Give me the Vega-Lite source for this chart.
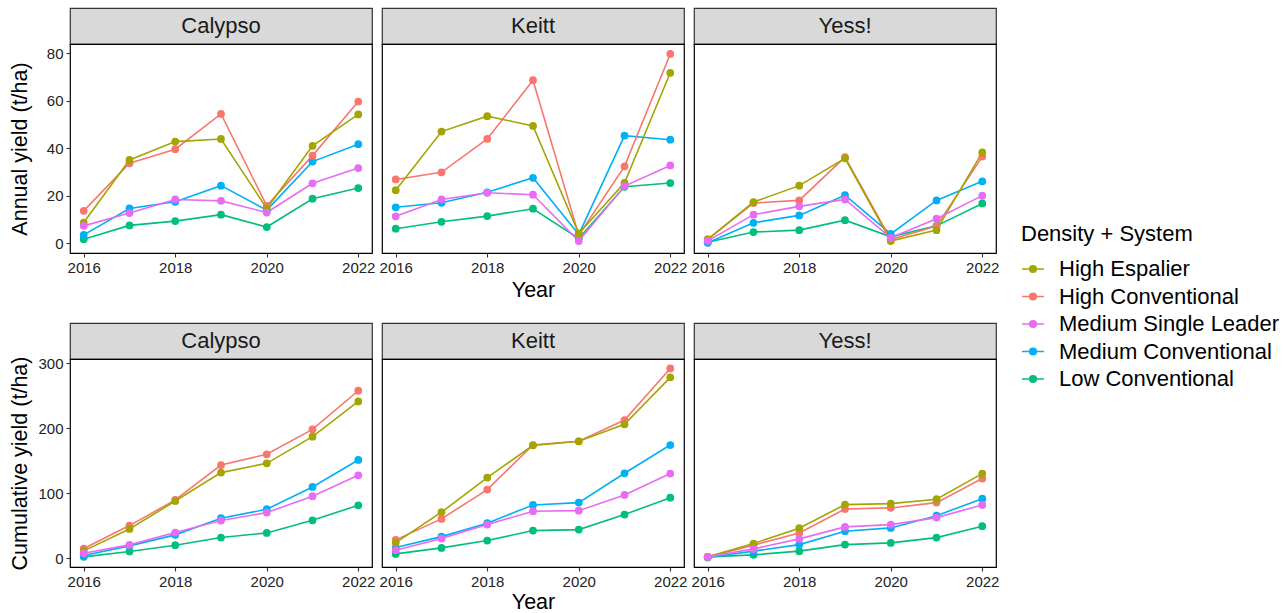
{
  "$schema": "https://vega.github.io/schema/vega-lite/v6.json",
  "padding": {"left": 8, "top": 7, "right": 5, "bottom": 0},
  "config": {
    "font": "Liberation Sans",
    "view": {"stroke": "#000000", "strokeWidth": 1.2, "fill": "#ffffff"},
    "axis": {"grid": false, "domain": false, "tickSize": 4, "tickColor": "#333333", "tickWidth": 1.1, "labelFontSize": 15, "labelColor": "#222222", "labelPadding": 3, "labelFlush": false, "titleFontSize": 21.5, "titleFontWeight": "normal", "titleColor": "#000000"},
    "legend": {"titleFontSize": 22, "titleFontWeight": "normal", "titleColor": "#000000", "labelFontSize": 22, "labelColor": "#000000", "labelLimit": 400, "symbolType": "M-1,0H1M-0.3,0A0.3,0.3,0,1,0,0.3,0A0.3,0.3,0,1,0,-0.3,0Z", "symbolSize": 484, "symbolStrokeWidth": 1.6, "rowPadding": 4.5, "labelOffset": 14, "titlePadding": 11}
  },
  "datasets": {
    "yield": [
      {"cultivar":"Calypso","system":"Low Conventional","year":2016,"annual":1.8,"cumulative":2.0},
      {"cultivar":"Calypso","system":"Low Conventional","year":2017,"annual":7.6,"cumulative":10.3},
      {"cultivar":"Calypso","system":"Low Conventional","year":2018,"annual":9.4,"cumulative":20.0},
      {"cultivar":"Calypso","system":"Low Conventional","year":2019,"annual":12.1,"cumulative":31.8},
      {"cultivar":"Calypso","system":"Low Conventional","year":2020,"annual":6.9,"cumulative":38.9},
      {"cultivar":"Calypso","system":"Low Conventional","year":2021,"annual":18.8,"cumulative":58.4},
      {"cultivar":"Calypso","system":"Low Conventional","year":2022,"annual":23.3,"cumulative":81.5},
      {"cultivar":"Calypso","system":"Medium Conventional","year":2016,"annual":3.6,"cumulative":4.0},
      {"cultivar":"Calypso","system":"Medium Conventional","year":2017,"annual":14.7,"cumulative":18.9},
      {"cultivar":"Calypso","system":"Medium Conventional","year":2018,"annual":17.5,"cumulative":35.9},
      {"cultivar":"Calypso","system":"Medium Conventional","year":2019,"annual":24.3,"cumulative":61.5},
      {"cultivar":"Calypso","system":"Medium Conventional","year":2020,"annual":14.0,"cumulative":75.4},
      {"cultivar":"Calypso","system":"Medium Conventional","year":2021,"annual":34.4,"cumulative":109.7},
      {"cultivar":"Calypso","system":"Medium Conventional","year":2022,"annual":41.7,"cumulative":151.3},
      {"cultivar":"Calypso","system":"High Conventional","year":2016,"annual":13.7,"cumulative":14.9},
      {"cultivar":"Calypso","system":"High Conventional","year":2017,"annual":33.7,"cumulative":50.2},
      {"cultivar":"Calypso","system":"High Conventional","year":2018,"annual":39.6,"cumulative":89.7},
      {"cultivar":"Calypso","system":"High Conventional","year":2019,"annual":54.4,"cumulative":143.5},
      {"cultivar":"Calypso","system":"High Conventional","year":2020,"annual":15.8,"cumulative":160.0},
      {"cultivar":"Calypso","system":"High Conventional","year":2021,"annual":36.9,"cumulative":198.4},
      {"cultivar":"Calypso","system":"High Conventional","year":2022,"annual":59.6,"cumulative":257.9},
      {"cultivar":"Calypso","system":"High Espalier","year":2016,"annual":8.8,"cumulative":11.2},
      {"cultivar":"Calypso","system":"High Espalier","year":2017,"annual":35.1,"cumulative":45.0},
      {"cultivar":"Calypso","system":"High Espalier","year":2018,"annual":42.8,"cumulative":88.0},
      {"cultivar":"Calypso","system":"High Espalier","year":2019,"annual":43.9,"cumulative":131.8},
      {"cultivar":"Calypso","system":"High Espalier","year":2020,"annual":14.7,"cumulative":146.1},
      {"cultivar":"Calypso","system":"High Espalier","year":2021,"annual":41.0,"cumulative":187.1},
      {"cultivar":"Calypso","system":"High Espalier","year":2022,"annual":54.2,"cumulative":241.5},
      {"cultivar":"Calypso","system":"Medium Single Leader","year":2016,"annual":7.4,"cumulative":7.7},
      {"cultivar":"Calypso","system":"Medium Single Leader","year":2017,"annual":12.8,"cumulative":20.5},
      {"cultivar":"Calypso","system":"Medium Single Leader","year":2018,"annual":18.5,"cumulative":39.4},
      {"cultivar":"Calypso","system":"Medium Single Leader","year":2019,"annual":17.9,"cumulative":57.9},
      {"cultivar":"Calypso","system":"Medium Single Leader","year":2020,"annual":13.0,"cumulative":70.2},
      {"cultivar":"Calypso","system":"Medium Single Leader","year":2021,"annual":25.3,"cumulative":95.4},
      {"cultivar":"Calypso","system":"Medium Single Leader","year":2022,"annual":31.7,"cumulative":127.7},
      {"cultivar":"Keitt","system":"Low Conventional","year":2016,"annual":6.2,"cumulative":6.6},
      {"cultivar":"Keitt","system":"Low Conventional","year":2017,"annual":9.1,"cumulative":15.8},
      {"cultivar":"Keitt","system":"Low Conventional","year":2018,"annual":11.5,"cumulative":27.1},
      {"cultivar":"Keitt","system":"Low Conventional","year":2019,"annual":14.6,"cumulative":42.5},
      {"cultivar":"Keitt","system":"Low Conventional","year":2020,"annual":2.1,"cumulative":44.0},
      {"cultivar":"Keitt","system":"Low Conventional","year":2021,"annual":23.8,"cumulative":67.1},
      {"cultivar":"Keitt","system":"Low Conventional","year":2022,"annual":25.4,"cumulative":93.2},
      {"cultivar":"Keitt","system":"Medium Conventional","year":2016,"annual":15.2,"cumulative":16.3},
      {"cultivar":"Keitt","system":"Medium Conventional","year":2017,"annual":17.1,"cumulative":33.2},
      {"cultivar":"Keitt","system":"Medium Conventional","year":2018,"annual":21.5,"cumulative":53.8},
      {"cultivar":"Keitt","system":"Medium Conventional","year":2019,"annual":27.6,"cumulative":82.0},
      {"cultivar":"Keitt","system":"Medium Conventional","year":2020,"annual":3.8,"cumulative":85.6},
      {"cultivar":"Keitt","system":"Medium Conventional","year":2021,"annual":45.3,"cumulative":130.8},
      {"cultivar":"Keitt","system":"Medium Conventional","year":2022,"annual":43.6,"cumulative":174.3},
      {"cultivar":"Keitt","system":"High Conventional","year":2016,"annual":26.9,"cumulative":28.2},
      {"cultivar":"Keitt","system":"High Conventional","year":2017,"annual":29.9,"cumulative":60.5},
      {"cultivar":"Keitt","system":"High Conventional","year":2018,"annual":43.9,"cumulative":105.6},
      {"cultivar":"Keitt","system":"High Conventional","year":2019,"annual":68.6,"cumulative":174.3},
      {"cultivar":"Keitt","system":"High Conventional","year":2020,"annual":3.5,"cumulative":180.0},
      {"cultivar":"Keitt","system":"High Conventional","year":2021,"annual":32.4,"cumulative":212.8},
      {"cultivar":"Keitt","system":"High Conventional","year":2022,"annual":79.6,"cumulative":292.3},
      {"cultivar":"Keitt","system":"High Espalier","year":2016,"annual":22.4,"cumulative":24.0},
      {"cultivar":"Keitt","system":"High Espalier","year":2017,"annual":47.0,"cumulative":70.8},
      {"cultivar":"Keitt","system":"High Espalier","year":2018,"annual":53.5,"cumulative":124.1},
      {"cultivar":"Keitt","system":"High Espalier","year":2019,"annual":49.4,"cumulative":173.8},
      {"cultivar":"Keitt","system":"High Espalier","year":2020,"annual":4.2,"cumulative":180.0},
      {"cultivar":"Keitt","system":"High Espalier","year":2021,"annual":25.5,"cumulative":206.2},
      {"cultivar":"Keitt","system":"High Espalier","year":2022,"annual":71.7,"cumulative":278.5},
      {"cultivar":"Keitt","system":"Medium Single Leader","year":2016,"annual":11.4,"cumulative":12.3},
      {"cultivar":"Keitt","system":"Medium Single Leader","year":2017,"annual":18.5,"cumulative":30.2},
      {"cultivar":"Keitt","system":"Medium Single Leader","year":2018,"annual":21.3,"cumulative":51.7},
      {"cultivar":"Keitt","system":"Medium Single Leader","year":2019,"annual":20.5,"cumulative":72.3},
      {"cultivar":"Keitt","system":"Medium Single Leader","year":2020,"annual":1.0,"cumulative":73.2},
      {"cultivar":"Keitt","system":"Medium Single Leader","year":2021,"annual":24.1,"cumulative":97.4},
      {"cultivar":"Keitt","system":"Medium Single Leader","year":2022,"annual":32.8,"cumulative":130.3},
      {"cultivar":"Yess!","system":"Low Conventional","year":2016,"annual":0.5,"cumulative":2.0},
      {"cultivar":"Yess!","system":"Low Conventional","year":2017,"annual":4.8,"cumulative":5.1},
      {"cultivar":"Yess!","system":"Low Conventional","year":2018,"annual":5.6,"cumulative":10.8},
      {"cultivar":"Yess!","system":"Low Conventional","year":2019,"annual":9.8,"cumulative":20.9},
      {"cultivar":"Yess!","system":"Low Conventional","year":2020,"annual":2.8,"cumulative":23.5},
      {"cultivar":"Yess!","system":"Low Conventional","year":2021,"annual":7.4,"cumulative":31.7},
      {"cultivar":"Yess!","system":"Low Conventional","year":2022,"annual":16.8,"cumulative":49.2},
      {"cultivar":"Yess!","system":"Medium Conventional","year":2016,"annual":0.3,"cumulative":1.0},
      {"cultivar":"Yess!","system":"Medium Conventional","year":2017,"annual":8.7,"cumulative":10.8},
      {"cultivar":"Yess!","system":"Medium Conventional","year":2018,"annual":11.8,"cumulative":20.9},
      {"cultivar":"Yess!","system":"Medium Conventional","year":2019,"annual":20.3,"cumulative":41.5},
      {"cultivar":"Yess!","system":"Medium Conventional","year":2020,"annual":4.0,"cumulative":46.6},
      {"cultivar":"Yess!","system":"Medium Conventional","year":2021,"annual":18.1,"cumulative":65.5},
      {"cultivar":"Yess!","system":"Medium Conventional","year":2022,"annual":26.1,"cumulative":91.7},
      {"cultivar":"Yess!","system":"High Conventional","year":2016,"annual":1.7,"cumulative":2.0},
      {"cultivar":"Yess!","system":"High Conventional","year":2017,"annual":17.0,"cumulative":20.0},
      {"cultivar":"Yess!","system":"High Conventional","year":2018,"annual":18.1,"cumulative":38.9},
      {"cultivar":"Yess!","system":"High Conventional","year":2019,"annual":36.3,"cumulative":75.8},
      {"cultivar":"Yess!","system":"High Conventional","year":2020,"annual":1.7,"cumulative":77.4},
      {"cultivar":"Yess!","system":"High Conventional","year":2021,"annual":7.3,"cumulative":85.6},
      {"cultivar":"Yess!","system":"High Conventional","year":2022,"annual":36.5,"cumulative":122.6},
      {"cultivar":"Yess!","system":"High Espalier","year":2016,"annual":1.7,"cumulative":2.0},
      {"cultivar":"Yess!","system":"High Espalier","year":2017,"annual":17.4,"cumulative":22.5},
      {"cultivar":"Yess!","system":"High Espalier","year":2018,"annual":24.3,"cumulative":46.2},
      {"cultivar":"Yess!","system":"High Espalier","year":2019,"annual":35.8,"cumulative":82.5},
      {"cultivar":"Yess!","system":"High Espalier","year":2020,"annual":1.0,"cumulative":84.0},
      {"cultivar":"Yess!","system":"High Espalier","year":2021,"annual":5.6,"cumulative":90.8},
      {"cultivar":"Yess!","system":"High Espalier","year":2022,"annual":38.3,"cumulative":130.3},
      {"cultivar":"Yess!","system":"Medium Single Leader","year":2016,"annual":1.1,"cumulative":2.0},
      {"cultivar":"Yess!","system":"Medium Single Leader","year":2017,"annual":12.1,"cumulative":14.3},
      {"cultivar":"Yess!","system":"Medium Single Leader","year":2018,"annual":15.6,"cumulative":29.7},
      {"cultivar":"Yess!","system":"Medium Single Leader","year":2019,"annual":18.5,"cumulative":48.2},
      {"cultivar":"Yess!","system":"Medium Single Leader","year":2020,"annual":2.4,"cumulative":51.7},
      {"cultivar":"Yess!","system":"Medium Single Leader","year":2021,"annual":10.4,"cumulative":62.5},
      {"cultivar":"Yess!","system":"Medium Single Leader","year":2022,"annual":20.1,"cumulative":82.0}
    ]
  },
  "spacing": 20,
  "vconcat": [
    {
      "spacing": 2,
      "hconcat": [
        {
          "spacing": 0, "bounds": "flush",
          "vconcat": [
            {"width": 302, "height": 36, "view": {"fill": "#d9d9d9", "stroke": "#333333", "strokeWidth": 1.2}, "data": {"name": "yield"}, "transform": [{"filter": "datum.cultivar === 'Calypso'"}, {"aggregate": [{"op": "count", "as": "n"}], "groupby": ["cultivar"]}], "mark": {"type": "text", "fontSize": 22, "color": "#1a1a1a"}, "encoding": {"text": {"field": "cultivar"}}},
            {"width": 302, "height": 209, "data": {"name": "yield"}, "transform": [{"filter": "datum.cultivar === 'Calypso'"}],
             "encoding": {
               "x": {"field": "year", "type": "quantitative", "scale": {"domain": [2015.7, 2022.3], "nice": false, "zero": false}, "axis": {"values": [2016, 2018, 2020, 2022], "format": "d", "title": null}},
               "y": {"field": "annual", "type": "quantitative", "scale": {"domain": [-4, 83.8], "nice": false, "zero": false}, "axis": {"values": [0, 20, 40, 60, 80], "title": "Annual yield (t/ha)", "minExtent": 36, "maxExtent": 36, "titlePadding": 3}},
               "color": {"field": "system", "type": "nominal", "title": "Density + System", "scale": {"domain": ["High Espalier", "High Conventional", "Medium Single Leader", "Medium Conventional", "Low Conventional"], "range": ["#A3A500", "#F8766D", "#E76BF3", "#00B0F6", "#00BF7D"]}, "legend": {"orient": "none", "legendX": 951, "legendY": 216, "encode": {"symbols": {"update": {"fill": {"scale": "color", "field": "value"}, "stroke": {"scale": "color", "field": "value"}, "strokeWidth": {"value": 1.6}}}}}}
             },
             "layer": [{"mark": {"type": "line", "strokeWidth": 1.6}}, {"mark": {"type": "point", "filled": true, "size": 60, "opacity": 1}}]}
          ]
        },
        {
          "spacing": 0, "bounds": "flush",
          "vconcat": [
            {"width": 302, "height": 36, "view": {"fill": "#d9d9d9", "stroke": "#333333", "strokeWidth": 1.2}, "data": {"name": "yield"}, "transform": [{"filter": "datum.cultivar === 'Keitt'"}, {"aggregate": [{"op": "count", "as": "n"}], "groupby": ["cultivar"]}], "mark": {"type": "text", "fontSize": 22, "color": "#1a1a1a"}, "encoding": {"text": {"field": "cultivar"}}},
            {"width": 302, "height": 209, "data": {"name": "yield"}, "transform": [{"filter": "datum.cultivar === 'Keitt'"}],
             "encoding": {
               "x": {"field": "year", "type": "quantitative", "scale": {"domain": [2015.7, 2022.3], "nice": false, "zero": false}, "axis": {"values": [2016, 2018, 2020, 2022], "format": "d", "title": "Year", "titlePadding": 4}},
               "y": {"field": "annual", "type": "quantitative", "scale": {"domain": [-4, 83.8], "nice": false, "zero": false}, "axis": null},
               "color": {"field": "system", "type": "nominal", "title": "Density + System", "scale": {"domain": ["High Espalier", "High Conventional", "Medium Single Leader", "Medium Conventional", "Low Conventional"], "range": ["#A3A500", "#F8766D", "#E76BF3", "#00B0F6", "#00BF7D"]}, "legend": {"orient": "none", "legendX": 951, "legendY": 216, "encode": {"symbols": {"update": {"fill": {"scale": "color", "field": "value"}, "stroke": {"scale": "color", "field": "value"}, "strokeWidth": {"value": 1.6}}}}}}
             },
             "layer": [{"mark": {"type": "line", "strokeWidth": 1.6}}, {"mark": {"type": "point", "filled": true, "size": 60, "opacity": 1}}]}
          ]
        },
        {
          "spacing": 0, "bounds": "flush",
          "vconcat": [
            {"width": 302, "height": 36, "view": {"fill": "#d9d9d9", "stroke": "#333333", "strokeWidth": 1.2}, "data": {"name": "yield"}, "transform": [{"filter": "datum.cultivar === 'Yess!'"}, {"aggregate": [{"op": "count", "as": "n"}], "groupby": ["cultivar"]}], "mark": {"type": "text", "fontSize": 22, "color": "#1a1a1a"}, "encoding": {"text": {"field": "cultivar"}}},
            {"width": 302, "height": 209, "data": {"name": "yield"}, "transform": [{"filter": "datum.cultivar === 'Yess!'"}],
             "encoding": {
               "x": {"field": "year", "type": "quantitative", "scale": {"domain": [2015.7, 2022.3], "nice": false, "zero": false}, "axis": {"values": [2016, 2018, 2020, 2022], "format": "d", "title": null}},
               "y": {"field": "annual", "type": "quantitative", "scale": {"domain": [-4, 83.8], "nice": false, "zero": false}, "axis": null},
               "color": {"field": "system", "type": "nominal", "title": "Density + System", "scale": {"domain": ["High Espalier", "High Conventional", "Medium Single Leader", "Medium Conventional", "Low Conventional"], "range": ["#A3A500", "#F8766D", "#E76BF3", "#00B0F6", "#00BF7D"]}, "legend": {"orient": "none", "legendX": 951, "legendY": 216, "encode": {"symbols": {"update": {"fill": {"scale": "color", "field": "value"}, "stroke": {"scale": "color", "field": "value"}, "strokeWidth": {"value": 1.6}}}}}}
             },
             "layer": [{"mark": {"type": "line", "strokeWidth": 1.6}}, {"mark": {"type": "point", "filled": true, "size": 60, "opacity": 1}}]}
          ]
        }
      ]
    },
    {
      "spacing": 2,
      "hconcat": [
        {
          "spacing": 0, "bounds": "flush",
          "vconcat": [
            {"width": 302, "height": 36, "view": {"fill": "#d9d9d9", "stroke": "#333333", "strokeWidth": 1.2}, "data": {"name": "yield"}, "transform": [{"filter": "datum.cultivar === 'Calypso'"}, {"aggregate": [{"op": "count", "as": "n"}], "groupby": ["cultivar"]}], "mark": {"type": "text", "fontSize": 22, "color": "#1a1a1a"}, "encoding": {"text": {"field": "cultivar"}}},
            {"width": 302, "height": 208, "data": {"name": "yield"}, "transform": [{"filter": "datum.cultivar === 'Calypso'"}],
             "encoding": {
               "x": {"field": "year", "type": "quantitative", "scale": {"domain": [2015.7, 2022.3], "nice": false, "zero": false}, "axis": {"values": [2016, 2018, 2020, 2022], "format": "d", "title": null}},
               "y": {"field": "cumulative", "type": "quantitative", "scale": {"domain": [-13.6, 306.8], "nice": false, "zero": false}, "axis": {"values": [0, 100, 200, 300], "title": "Cumulative yield (t/ha)", "minExtent": 36, "maxExtent": 36, "titlePadding": 3}},
               "color": {"field": "system", "type": "nominal", "title": "Density + System", "scale": {"domain": ["High Espalier", "High Conventional", "Medium Single Leader", "Medium Conventional", "Low Conventional"], "range": ["#A3A500", "#F8766D", "#E76BF3", "#00B0F6", "#00BF7D"]}, "legend": {"orient": "none", "legendX": 951, "legendY": 216, "encode": {"symbols": {"update": {"fill": {"scale": "color", "field": "value"}, "stroke": {"scale": "color", "field": "value"}, "strokeWidth": {"value": 1.6}}}}}}
             },
             "layer": [{"mark": {"type": "line", "strokeWidth": 1.6}}, {"mark": {"type": "point", "filled": true, "size": 60, "opacity": 1}}]}
          ]
        },
        {
          "spacing": 0, "bounds": "flush",
          "vconcat": [
            {"width": 302, "height": 36, "view": {"fill": "#d9d9d9", "stroke": "#333333", "strokeWidth": 1.2}, "data": {"name": "yield"}, "transform": [{"filter": "datum.cultivar === 'Keitt'"}, {"aggregate": [{"op": "count", "as": "n"}], "groupby": ["cultivar"]}], "mark": {"type": "text", "fontSize": 22, "color": "#1a1a1a"}, "encoding": {"text": {"field": "cultivar"}}},
            {"width": 302, "height": 208, "data": {"name": "yield"}, "transform": [{"filter": "datum.cultivar === 'Keitt'"}],
             "encoding": {
               "x": {"field": "year", "type": "quantitative", "scale": {"domain": [2015.7, 2022.3], "nice": false, "zero": false}, "axis": {"values": [2016, 2018, 2020, 2022], "format": "d", "title": "Year", "titlePadding": 2}},
               "y": {"field": "cumulative", "type": "quantitative", "scale": {"domain": [-13.6, 306.8], "nice": false, "zero": false}, "axis": null},
               "color": {"field": "system", "type": "nominal", "title": "Density + System", "scale": {"domain": ["High Espalier", "High Conventional", "Medium Single Leader", "Medium Conventional", "Low Conventional"], "range": ["#A3A500", "#F8766D", "#E76BF3", "#00B0F6", "#00BF7D"]}, "legend": {"orient": "none", "legendX": 951, "legendY": 216, "encode": {"symbols": {"update": {"fill": {"scale": "color", "field": "value"}, "stroke": {"scale": "color", "field": "value"}, "strokeWidth": {"value": 1.6}}}}}}
             },
             "layer": [{"mark": {"type": "line", "strokeWidth": 1.6}}, {"mark": {"type": "point", "filled": true, "size": 60, "opacity": 1}}]}
          ]
        },
        {
          "spacing": 0, "bounds": "flush",
          "vconcat": [
            {"width": 302, "height": 36, "view": {"fill": "#d9d9d9", "stroke": "#333333", "strokeWidth": 1.2}, "data": {"name": "yield"}, "transform": [{"filter": "datum.cultivar === 'Yess!'"}, {"aggregate": [{"op": "count", "as": "n"}], "groupby": ["cultivar"]}], "mark": {"type": "text", "fontSize": 22, "color": "#1a1a1a"}, "encoding": {"text": {"field": "cultivar"}}},
            {"width": 302, "height": 208, "data": {"name": "yield"}, "transform": [{"filter": "datum.cultivar === 'Yess!'"}],
             "encoding": {
               "x": {"field": "year", "type": "quantitative", "scale": {"domain": [2015.7, 2022.3], "nice": false, "zero": false}, "axis": {"values": [2016, 2018, 2020, 2022], "format": "d", "title": null}},
               "y": {"field": "cumulative", "type": "quantitative", "scale": {"domain": [-13.6, 306.8], "nice": false, "zero": false}, "axis": null},
               "color": {"field": "system", "type": "nominal", "title": "Density + System", "scale": {"domain": ["High Espalier", "High Conventional", "Medium Single Leader", "Medium Conventional", "Low Conventional"], "range": ["#A3A500", "#F8766D", "#E76BF3", "#00B0F6", "#00BF7D"]}, "legend": {"orient": "none", "legendX": 951, "legendY": 216, "encode": {"symbols": {"update": {"fill": {"scale": "color", "field": "value"}, "stroke": {"scale": "color", "field": "value"}, "strokeWidth": {"value": 1.6}}}}}}
             },
             "layer": [{"mark": {"type": "line", "strokeWidth": 1.6}}, {"mark": {"type": "point", "filled": true, "size": 60, "opacity": 1}}]}
          ]
        }
      ]
    }
  ]
}
